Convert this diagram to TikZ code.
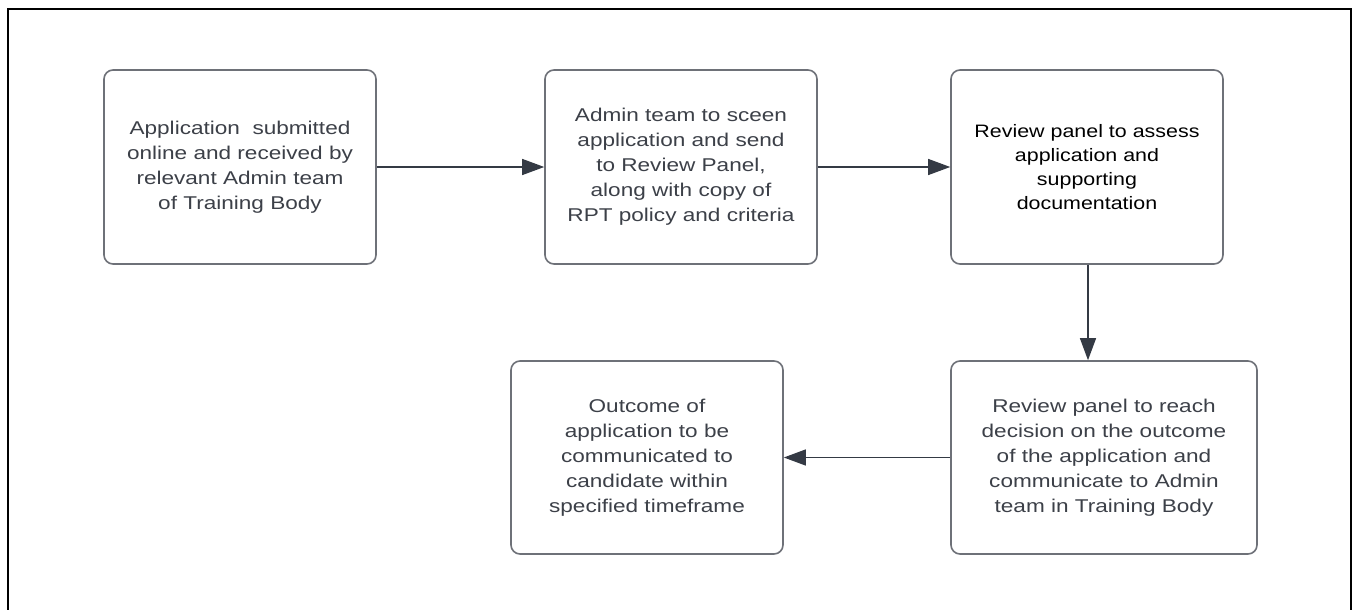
\documentclass[tikz,border=0pt]{standalone}
\usepackage{fontspec}
\setmainfont{Liberation Sans}[FakeStretch=1.22]
\newfontfamily\blackfont{Liberation Sans}[FakeStretch=1.19]
\usetikzlibrary{arrows.meta}
\definecolor{boxline}{HTML}{6E7178}
\definecolor{txt}{HTML}{3C4048}
\definecolor{arr}{HTML}{343A44}
\tikzset{
  stepbox/.style={draw=boxline, line width=1.6pt, rounded corners=9pt, fill=white,
    minimum width=272pt, minimum height=194pt, align=center, text=txt,
    font=\fontsize{18.5}{25}\selectfont, inner sep=0pt},
  conn/.style={draw=arr, line width=1.2pt, -{Triangle[length=22pt,width=16pt]}}
}
\begin{document}
\begin{tikzpicture}[x=1pt,y=-1pt]
\useasboundingbox (0,0) rectangle (1353,610);
\fill[white] (0,0) rectangle (1353,610);
\draw[black, line width=2pt] (8,611) -- (8,9) -- (1351,9) -- (1351,611);
\node[stepbox] (a) at (240,167) {Application\ \ submitted\\online and received by\\relevant Admin team\\of Training Body};
\node[stepbox] (b) at (681,167) {Admin team to sceen\\application and send\\to Review Panel,\\along with copy of\\RPT policy and criteria};
\node[stepbox, text=black, font=\blackfont\fontsize{18}{24}\selectfont] (c) at (1087,167) {Review panel to assess\\application and\\supporting\\documentation};
\node[stepbox, minimum width=306pt, minimum height=193pt] (d) at (1104,457.5) {Review panel to reach\\decision on the outcome\\of the application and\\communicate to Admin\\team in Training Body};
\node[stepbox, minimum height=193pt] (e) at (647,457.5) {Outcome of\\application to be\\communicated to\\candidate within\\specified timeframe};
\draw[conn] (a) -- (b);
\draw[conn] (b) -- (c);
\draw[conn] (c.south -| 1088,0) -- (d.north -| 1088,0);
\draw[conn] (d) -- (e);
\end{tikzpicture}
\end{document}
